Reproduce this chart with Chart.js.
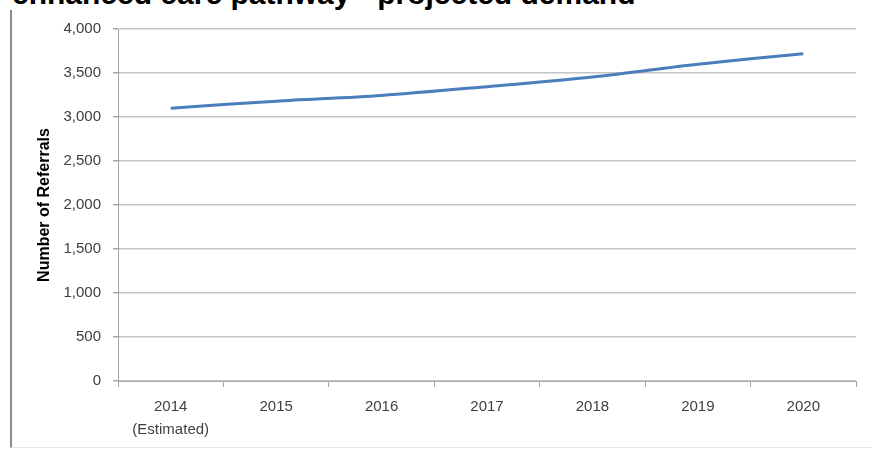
<!DOCTYPE html>
<html lang="en">

<head>
    <meta charset="UTF-8">
    <meta name="viewport" content="width=device-width, initial-scale=1.0">
    <title>Enhanced care pathway - projected demand</title>
    <style>
        html, body { margin: 0; padding: 0; background: #fff; overflow: hidden; }
        #wrap { position: relative; width: 872px; height: 450px; }
        #titulo {
            position: absolute; left: 12px; top: -21px; margin: 0;
            font: bold 30px "Liberation Sans", Arial, sans-serif; line-height: 30px;
            color: #000; white-space: nowrap;
        }
        #marco {
            position: absolute; left: 10px; top: 10px; width: 870px; height: 437px;
            border-left: 2px solid #8c8c8c; border-bottom: 1px solid #e6e6e6;
        }
        #box { position: absolute; left: 0; top: 0; width: 872px; height: 450px; }
    </style>
</head>

<body>
    <div id="wrap">
        <h1 id="titulo">enhanced care pathway - projected demand</h1>
        <div id="marco"></div>
        <div id="box"><canvas id="grafica"></canvas></div>
    </div>

    <script src="https://cdn.jsdelivr.net/npm/chart.js@4.4.1/dist/chart.umd.min.js"></script>
    <script>
        // datos
        const years = [['2014', '(Estimated)'], '2015', '2016', '2017', '2018', '2019', '2020'];
        const referrals = [3100, 3180, 3245, 3345, 3455, 3600, 3720];
        const yTicks = [0, 500, 1000, 1500, 2000, 2500, 3000, 3500, 4000];

        const fuente = '"Liberation Sans", Arial, sans-serif';
        const ctx = document.getElementById('grafica').getContext('2d');
        const grafica = new Chart(ctx, {
            type: 'line',
            data: {
                labels: years,
                datasets: [{
                    label: 'Number of Referrals',
                    data: referrals,
                    borderColor: '#4a7ebb',
                    borderWidth: 3,
                    pointRadius: 0,
                    fill: false,
                    tension: 0.3
                }]
            },
            options: {
                responsive: true,
                maintainAspectRatio: false,
                animation: false,
                devicePixelRatio: 1,
                layout: { padding: { top: 29, right: 16, left: 0, bottom: 0 } },
                plugins: { legend: { display: false }, tooltip: { enabled: false } },
                scales: {
                    x: {
                        offset: true,
                        grid: { offset: true, drawOnChartArea: false, drawTicks: true, tickLength: 6, color: '#a6a6a6', lineWidth: 1 },
                        border: { color: '#a6a6a6', width: 1 },
                        ticks: { color: '#404040', font: { family: fuente, size: 15, lineHeight: 1.55 }, padding: 8, maxRotation: 0, autoSkip: false },
                        afterFit: s => { s.height = 69; }
                    },
                    y: {
                        min: yTicks[0],
                        max: yTicks[yTicks.length - 1],
                        afterBuildTicks: s => { s.ticks = yTicks.map(v => ({ value: v })); },
                        grid: { color: '#c4c4c4', lineWidth: 1.5, tickLength: 5, tickColor: '#a6a6a6' },
                        border: { color: '#a6a6a6', width: 1 },
                        ticks: {
                            color: '#404040', font: { family: fuente, size: 15 }, padding: 12,
                            callback: v => v.toLocaleString('en-US')
                        },
                        title: {
                            display: true, text: 'Number of Referrals', color: '#000',
                            font: { family: fuente, size: 16, weight: 'bold' },
                            padding: { top: 35, bottom: 0 }
                        },
                        afterFit: s => { s.width = 118; }
                    }
                }
            }
        });
    </script>
</body>

</html>
